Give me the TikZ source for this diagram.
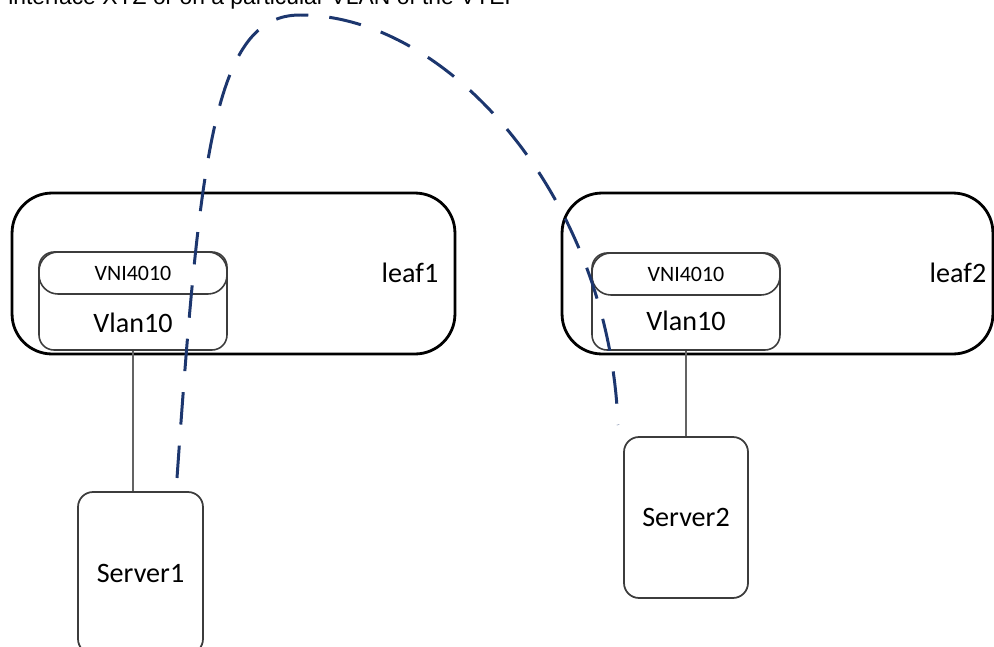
\documentclass[tikz,border=0pt]{standalone}
\usepackage{fontspec}
\setmainfont{Carlito}
\newfontfamily\notefont{Liberation Sans}
\usepackage{tikz}
\usetikzlibrary{positioning}
\usetikzlibrary{calc}

\definecolor{tunnelblue}{RGB}{28,54,110}
\definecolor{boxgray}{RGB}{60,60,60}

\begin{document}
\begin{tikzpicture}[x=0.02cm, y=-0.02cm,
    leafbox/.style={draw=black, line width=1.6pt, rounded corners=0.8cm, inner sep=0pt},
    vnibox/.style={draw=boxgray, line width=0.9pt, rounded corners=0.3cm, minimum width=3.76cm, inner sep=0pt},
    vnitop/.style={draw=boxgray, line width=0.9pt, rounded corners=0.38cm, minimum width=3.76cm, minimum height=0.84cm, inner sep=0pt, font=\fontsize{12.5}{14}\selectfont},
    srvbox/.style={draw=boxgray, line width=1pt, rounded corners=0.3cm, inner sep=0pt, font=\fontsize{16}{19}\selectfont},
    lbl/.style={inner sep=0pt, font=\fontsize{16}{19}\selectfont},
    link/.style={draw=boxgray!80, line width=1pt},
    tunnel/.style={draw=tunnelblue, line width=1.7pt, dash pattern=on 18.5pt off 12pt}]
        % Fix the frame of the picture
        \useasboundingbox (0,0) rectangle (994,646);
        \clip (0,0) rectangle (994,646);

        % Draw the caption line cut off at the top
        \node[anchor=base west, inner sep=0pt, font=\notefont\fontsize{13}{15}\selectfont] (note) at (8,4) {interface XYZ or on a particular VLAN of the VTEP};

        % Draw the two leaf switches
        \node[leafbox, minimum width=8.86cm, minimum height=3.22cm] (leaf1) at (233.5,273.5) {};
        \node[leafbox, minimum width=8.62cm, minimum height=3.22cm] (leaf2) at (777.5,273.5) {};
        \node[lbl] (name1) at (410,273) {leaf1};
        \node[lbl] (name2) at (958,273) {leaf2};

        % Draw the VNI / VLAN block inside each leaf
        \node[vnibox, minimum height=1.96cm] (vni1) at (133,301) {};
        \node[vnitop] (top1) at (133,273) {VNI4010};
        \node[lbl] (vlan1) at (133,323) {Vlan10};

        \node[vnibox, minimum height=1.94cm] (vni2) at (686,301.5) {};
        \node[vnitop] (top2) at (686,274) {VNI4010};
        \node[lbl] (vlan2) at (686,321) {Vlan10};

        % Draw the servers
        \node[srvbox, minimum width=2.5cm, minimum height=3.24cm] (srv1) at (140.5,573) {Server1};
        \node[srvbox, minimum width=2.48cm, minimum height=3.22cm] (srv2) at (686,517.5) {Server2};

        % Connect each server to its leaf
        \draw[link] (vni1.south) -- (vni1.south |- srv1.north);
        \draw[link] (vni2.south) -- (srv2.north);

        % Draw the tunnel between both servers
        \coordinate (t1) at (177,478);
        \coordinate (peak) at (300,15);
        \coordinate (t2) at (618,425);
        \draw[tunnel] (t1) .. controls (200,150) and (215,15) .. (peak)
                           .. controls (450,15) and (610,200) .. (t2);
      \end{tikzpicture}
\end{document}
